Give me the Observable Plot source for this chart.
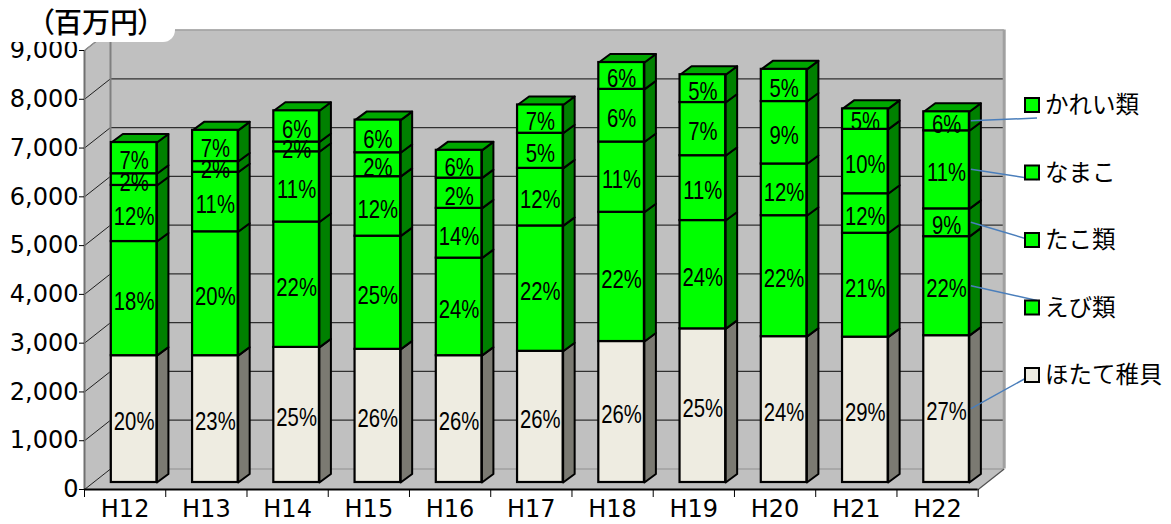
<!DOCTYPE html>
<html><head><meta charset="utf-8">
<script src="https://cdn.jsdelivr.net/npm/d3@7"></script>
<script src="https://cdn.jsdelivr.net/npm/@observablehq/plot@0.6"></script>
<style>
html,body{margin:0;padding:0;background:#fff;}
#wrap{position:relative;width:1171px;height:524px;overflow:hidden;}
#unit{position:absolute;left:0;top:0;width:175px;height:42px;background:#fff;border-bottom-right-radius:12px;
 font-family:'Noto Sans CJK JP';font-size:28px;font-weight:500;line-height:42px;padding-left:40px;box-sizing:border-box;color:#000;z-index:2;
 font-feature-settings:"palt";white-space:nowrap;}
</style></head>
<body>
<div id="wrap"><div id="unit">（百万円）</div></div>
<script>
// ---- data ----
const years = ["H12","H13","H14","H15","H16","H17","H18","H19","H20","H21","H22"];
const seriesNames = ["ほたて稚貝","えび類","たこ類","なまこ","かれい類"];
const hotate = [2600,2600,2770,2730,2600,2690,2890,3150,2990,2980,3010];
const ebi    = [2340,2540,2570,2320,2000,2570,2650,2220,2480,2130,2030];
const tako   = [1150,1220,1440,1220,1020,1180,1440,1330,1060, 810, 570];
const namako = [ 240, 220, 200, 490, 620, 720,1080,1090,1280,1320,1600];
const karei  = [ 640, 640, 640, 670, 570, 580, 550, 570, 660, 420, 390];
const hotatePct = [20,23,25,26,26,26,26,25,24,29,27];
const ebiPct    = [18,20,22,25,24,22,22,24,22,21,22];
const takoPct   = [12,11,11,12,14,12,11,11,12,12, 9];
const namakoPct = [ 2, 2, 2, 2, 2, 5, 6, 7, 9,10,11];
const kareiPct  = [ 7, 7, 6, 6, 6, 7, 6, 5, 5, 5, 6];
const yTicks = [0,1000,2000,3000,4000,5000,6000,7000,8000,9000];
const yMax = 9000;

// ---- layout / style ----
const W = 1171, H = 524, mL = 84, mR = 193.3, mT = 50, mB = 35;
const pxX = (W - mL - mR) / years.length;      // px per category
const pxY = (H - mT - mB) / yMax;              // px per unit
const wallDX = 26 / pxX, wallDY = 20.5 / pxY;  // wall depth in data units
const barHW = 22.8 / pxX;                      // half bar width
const barDX = 11.5 / pxX, barDY = 8.5 / pxY;   // bar depth
const planeDX = 9, planeDY = -7;               // bar plane offset (px)
const faceFill = ["#eeece1","#00ff00","#00ff00","#00ff00","#00ff00"];
const sideFill = ["#7b7a72","#008000","#008000","#008000","#008000"];
const topFill  = "#00a800";
const wallGray = "#c0c0c0";

const vals = [hotate, ebi, tako, namako, karei];
const pcts = [hotatePct, ebiPct, takoPct, namakoPct, kareiPct];
const rows = [];
years.forEach((yr, i) => {
  let acc = 0;
  vals.forEach((arr, s) => {
    rows.push({i, s, y0: acc, y1: acc + arr[i], pct: pcts[s][i] + "%"});
    acc += arr[i];
  });
});
const sides = [], tops = [];
rows.forEach((r, k) => {
  const xr = r.i + barHW;
  [[xr, r.y0],[xr + barDX, r.y0 + barDY],[xr + barDX, r.y1 + barDY],[xr, r.y1],[xr, r.y0]]
    .forEach(([x, y]) => sides.push({id: k, s: r.s, x, y}));
  if (r.s === vals.length - 1) {
    const xl = r.i - barHW;
    [[xl, r.y1],[xr, r.y1],[xr + barDX, r.y1 + barDY],[xl + barDX, r.y1 + barDY],[xl, r.y1]]
      .forEach(([x, y]) => tops.push({id: k, x, y}));
  }
});
const x0 = -0.5, x1 = years.length - 0.5;
const floorPoly = [[x0,0],[x1,0],[x1+wallDX,wallDY],[x0+wallDX,wallDY],[x0,0]].map(([x,y])=>({x,y}));
const leftPoly = [[x0,0],[x0+wallDX,wallDY],[x0+wallDX,yMax+wallDY],[x0,yMax],[x0,0]].map(([x,y])=>({x,y}));
const boundaries = years.map((_, i) => i - 0.5).concat([x1]);
const gridTicks = yTicks.filter(t => t > 0 && t < yMax);

const plot = Plot.plot({
  width: W, height: H,
  marginLeft: mL, marginRight: mR, marginTop: mT, marginBottom: mB,
  x: {domain: [x0, x1]},
  y: {domain: [0, yMax]},
  style: {fontFamily: "DejaVu Sans", fontSize: "24px", background: "transparent", overflow: "visible"},
  marks: [
    // walls
    Plot.line(floorPoly, {x: "x", y: "y", fill: wallGray, stroke: "none"}),
    Plot.line(leftPoly, {x: "x", y: "y", fill: wallGray, stroke: "none"}),
    Plot.rect([0], {x1: x0 + wallDX, x2: x1 + wallDX, y1: wallDY, y2: yMax + wallDY, fill: wallGray}),
    Plot.ruleY(gridTicks, {y: d => d + wallDY, x1: x0 + wallDX, x2: x1 + wallDX, stroke: "#303030", strokeWidth: 1.2}),
    Plot.link(yTicks, {x1: x0, y1: d => d, x2: x0 + wallDX, y2: d => d + wallDY, stroke: "#202020", strokeWidth: 1}),
    Plot.ruleY([yMax], {y: d => d + wallDY, x1: x0 + wallDX, x2: x1 + wallDX, stroke: "#a0a0a0", strokeWidth: 1.5}),
    Plot.ruleY([0], {y: d => d + wallDY, x1: x0 + wallDX, x2: x1 + wallDX, stroke: "#a8a8a8", strokeWidth: 2}),
    Plot.ruleX([x0 + wallDX], {y1: wallDY, y2: yMax + wallDY, stroke: "#808080", strokeWidth: 2}),
    Plot.ruleX([x1 + wallDX], {y1: wallDY, y2: yMax + wallDY, stroke: "#a0a0a0", strokeWidth: 3}),
    Plot.link([0], {x1: x1, y1: 0, x2: x1 + wallDX, y2: wallDY, stroke: "#505050", strokeWidth: 1.2}),
    Plot.link([yMax], {x1: x0, y1: yMax, x2: x0 + wallDX, y2: yMax + wallDY, stroke: "#909090", strokeWidth: 1.5}),
    // bars
    Plot.line(sides, {x: "x", y: "y", z: "id", fill: d => sideFill[d.s], stroke: "black", strokeWidth: 2, dx: planeDX, dy: planeDY}),
    Plot.line(tops, {x: "x", y: "y", z: "id", fill: topFill, stroke: "black", strokeWidth: 2, dx: planeDX, dy: planeDY}),
    Plot.rect(rows, {x1: d => d.i - barHW, x2: d => d.i + barHW, y1: "y0", y2: "y1", fill: d => faceFill[d.s], stroke: "black", strokeWidth: 2.2, dx: planeDX, dy: planeDY}),
    Plot.text(rows, {x: "i", y: d => (d.y0 + d.y1) / 2, text: "pct", dx: planeDX, dy: planeDY + 3,
      fontFamily: "'Liberation Sans'", fontSize: 26, fill: "black"}),
    // axes
    Plot.ruleX([x0], {y1: 0, y2: yMax, stroke: "#707070", strokeWidth: 2}),
    Plot.ruleY([0], {x1: x0, x2: x1, stroke: "black", strokeWidth: 2}),
    Plot.axisY(yTicks, {tickSize: 5, tickPadding: 1, tickFormat: d3.format(","), fontSize: 24, label: null, stroke: "black"}),
    Plot.axisX(boundaries, {tickSize: 8, tickFormat: () => "", label: null, stroke: "black"}),
    Plot.axisX(years.map((_, i) => i), {tickSize: 0, tickPadding: 10, tickFormat: i => years[i], fontSize: 24, label: null})
  ]
});
document.getElementById("wrap").appendChild(plot);

// condense the percentage labels horizontally (narrow Gothic look)
d3.select(plot).selectAll("text").filter(function() { return /%$/.test(this.textContent); })
  .each(function() {
    const len = this.getComputedTextLength();
    this.setAttribute("textLength", (len * 0.78).toFixed(1));
    this.setAttribute("lengthAdjust", "spacingAndGlyphs");
  });

// ---- legend with leader lines ----
const sx = plot.scale("x"), sy = plot.scale("y");
const svg = d3.select(plot);
const legendX = 1025, legendTop = 105, legendStep = 67.5, boxSize = 14;
const leaderEnd = [-3, -7, 2, 7, 13];  // end offsets per series (bottom → top)
const last = years.length - 1;
const g = svg.append("g").attr("text-anchor", "start");
seriesNames.forEach((name, s) => {
  const row = seriesNames.length - 1 - s;
  const cy = legendTop + row * legendStep;
  const r = rows.find(d => d.i === last && d.s === s);
  const xs = sx.apply(last + barHW) + planeDX + 2;
  const ys = sy.apply((r.y0 + r.y1) / 2) + planeDY;
  g.append("line").attr("x1", xs).attr("y1", ys).attr("x2", legendX + 12).attr("y2", cy + leaderEnd[s])
    .attr("stroke", "#4a7ebb").attr("stroke-width", 1.5);
});
seriesNames.forEach((name, s) => {
  const row = seriesNames.length - 1 - s;
  const cy = legendTop + row * legendStep;
  g.append("rect").attr("x", legendX).attr("y", cy - boxSize / 2).attr("width", boxSize).attr("height", boxSize)
    .attr("fill", faceFill[s]).attr("stroke", "black").attr("stroke-width", 2);
  g.append("text").attr("x", legendX + 20).attr("y", cy).attr("dy", "0.36em").attr("text-anchor", "start")
    .attr("font-family", "'Noto Sans CJK JP'").attr("font-size", 23.5).attr("fill", "black").text(name);
});
</script>
</body></html>
